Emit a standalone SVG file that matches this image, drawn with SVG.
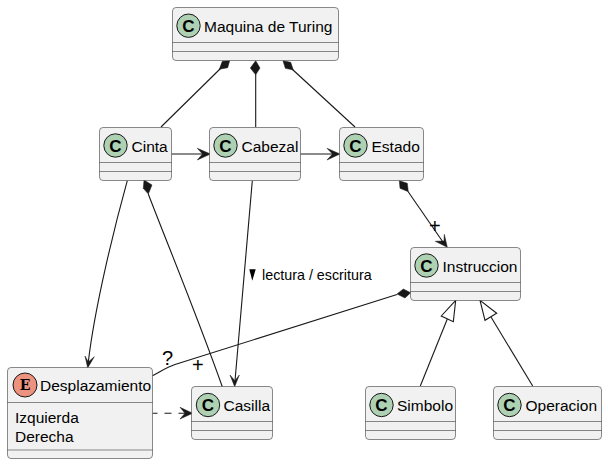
<svg xmlns="http://www.w3.org/2000/svg" width="608" height="465" viewBox="0 0 608 465">
<style>
.box{fill:#F1F1F1;stroke:#181818;stroke-width:.5}
.sep{stroke:#181818;stroke-width:.5}
.circ{stroke:#181818;stroke-width:1}
.c{fill:#ADD1B2}
.e{fill:#EB937F}
text{font-family:"Liberation Sans",Arial,sans-serif;font-size:15.5px;fill:#000}
.g{font-family:"Liberation Sans",Arial,sans-serif;font-size:17px;font-weight:bold;text-anchor:middle}
.ge{font-family:"DejaVu Serif",serif;font-size:14px;font-weight:bold;text-anchor:middle}
.l{font-size:14.3px}
.big{font-size:20px}
#connectors path,#connectors line{fill:none;stroke:#181818;stroke-width:1.1}
#connectors .head{fill:#181818;stroke:#181818;stroke-width:.5;stroke-linejoin:miter}
#connectors .tri{fill:#fff;stroke:#181818}
</style>
<defs>
<circle id="cicon" class="circ c" cx="0" cy="0" r="11.7"/>
</defs>
<g id="connectors">
<line x1="161" y1="127" x2="221" y2="68"/><path class="head" d="M229.7 60.7 L222.3 61.3 L219.3 69.3 L227.7 67.7 Z"/>
<line x1="255.7" y1="127" x2="255.7" y2="74"/><path class="head" d="M255.7 60.7 L250.3 68 L255.7 74.7 L260 68 Z"/>
<line x1="355" y1="127" x2="292" y2="69"/><path class="head" d="M283 60.7 L285.3 68.3 L293.3 70 L290.7 62.3 Z"/>
<line x1="171.5" y1="154" x2="205" y2="154"/><path class="head" d="M210.5 154 L197.3 148.3 L202.5 154 L197.3 160 Z"/>
<line x1="300.5" y1="154" x2="335" y2="154"/><path class="head" d="M340 154 L327 148.3 L332.5 154 L327 160 Z"/>
<line x1="252.3" y1="180.7" x2="235" y2="381"/><path class="head" d="M234.7 386.7 L239.3 375 L234.9 380.7 L230 375 Z"/>
<path d="M127.3 180.7 C115 225 95 305 88.3 362"/><path class="head" d="M87.7 368 L94.3 356.7 L88.3 362 L85 356 Z"/>
<path d="M148.3 194 C165 238 195 310 222.3 386.7"/><path class="head" d="M144 180 L143.3 188.3 L148.3 194 L152 185 Z"/>
<line x1="408" y1="191.5" x2="445" y2="245"/><path class="head" d="M399.3 180.7 L400 188.3 L408.3 191.7 L407.3 183.3 Z"/>
<path class="head" d="M447.3 247.3 L444.3 234.3 L444 241 L435.3 241.3 Z"/>
<path d="M152.5 375.7 C160 372 166 367.5 175 364.5 L397 294.5"/><path class="head" d="M410.7 292.7 L403.3 289 L397 294 L405 298 Z"/>
<line x1="152.5" y1="413.3" x2="186" y2="413.3" stroke-dasharray="7,7" stroke-dashoffset="2"/><path class="head" d="M192.7 413.3 L180 407.3 L185 413.3 L180 419 Z"/>
<line x1="420.3" y1="386" x2="447.3" y2="319"/><path class="tri" d="M455.7 300.3 L441.3 316 L453.3 321.7 Z"/>
<line x1="532.7" y1="386" x2="491" y2="317"/><path class="tri" d="M480 300.3 L485 320.3 L496.7 313.3 Z"/>
</g>
<g id="maquina"><rect class="box" x="172.5" y="7.5" width="166" height="53" rx="3.5"/><line class="sep" x1="172.5" y1="42.5" x2="338.5" y2="42.5"/><line class="sep" x1="172.5" y1="51.5" x2="338.5" y2="51.5"/><use href="#cicon" x="188.5" y="25.7"/><text class="g" x="188.5" y="31.5">C</text><text x="204" y="32">Maquina de Turing</text></g>
<g id="cinta"><rect class="box" x="99.5" y="127.5" width="72" height="53" rx="3.5"/><line class="sep" x1="99.5" y1="162.5" x2="171.5" y2="162.5"/><line class="sep" x1="99.5" y1="171.5" x2="171.5" y2="171.5"/><use href="#cicon" x="115.5" y="145.5"/><text class="g" x="115.5" y="151.5">C</text><text x="131.5" y="152">Cinta</text></g>
<g id="cabezal"><rect class="box" x="209.5" y="127.5" width="91" height="53" rx="3.5"/><line class="sep" x1="209.5" y1="162.5" x2="300.5" y2="162.5"/><line class="sep" x1="209.5" y1="171.5" x2="300.5" y2="171.5"/><use href="#cicon" x="225.5" y="145.5"/><text class="g" x="225.5" y="151.5">C</text><text x="241.5" y="152">Cabezal</text></g>
<g id="estado"><rect class="box" x="339.5" y="127.5" width="84" height="53" rx="3.5"/><line class="sep" x1="339.5" y1="162.5" x2="423.5" y2="162.5"/><line class="sep" x1="339.5" y1="171.5" x2="423.5" y2="171.5"/><use href="#cicon" x="355.5" y="145.5"/><text class="g" x="355.5" y="151.5">C</text><text x="371.5" y="152">Estado</text></g>
<g id="instruccion"><rect class="box" x="410.5" y="247.5" width="110" height="53" rx="3.5"/><line class="sep" x1="410.5" y1="282.5" x2="520.5" y2="282.5"/><line class="sep" x1="410.5" y1="291.5" x2="520.5" y2="291.5"/><use href="#cicon" x="426.5" y="265.5"/><text class="g" x="426.5" y="271.5">C</text><text x="442.5" y="272">Instruccion</text></g>
<g id="desplazamiento"><rect class="box" x="7.5" y="367.5" width="145" height="91" rx="3.5"/><line class="sep" x1="7.5" y1="402.5" x2="152.5" y2="402.5"/><line class="sep" x1="7.5" y1="450" x2="152.5" y2="450"/><circle class="circ e" cx="25" cy="385" r="12"/><text class="ge" x="25" y="390">E</text><text x="40" y="391">Desplazamiento</text><text x="15" y="423">Izquierda</text><text x="15" y="442">Derecha</text></g>
<g id="casilla"><rect class="box" x="191.5" y="386.5" width="81" height="53" rx="3.5"/><line class="sep" x1="191.5" y1="421.5" x2="272.5" y2="421.5"/><line class="sep" x1="191.5" y1="430.5" x2="272.5" y2="430.5"/><use href="#cicon" x="208" y="405"/><text class="g" x="208" y="411">C</text><text x="223.5" y="411">Casilla</text></g>
<g id="simbolo"><rect class="box" x="365.5" y="386.5" width="90" height="53" rx="3.5"/><line class="sep" x1="365.5" y1="421.5" x2="455.5" y2="421.5"/><line class="sep" x1="365.5" y1="430.5" x2="455.5" y2="430.5"/><use href="#cicon" x="381.5" y="405"/><text class="g" x="381.5" y="411">C</text><text x="397" y="411">Simbolo</text></g>
<g id="operacion"><rect class="box" x="493.5" y="386.5" width="108" height="53" rx="3.5"/><line class="sep" x1="493.5" y1="421.5" x2="601.5" y2="421.5"/><line class="sep" x1="493.5" y1="430.5" x2="601.5" y2="430.5"/><use href="#cicon" x="509.5" y="405"/><text class="g" x="509.5" y="411">C</text><text x="525.5" y="411">Operacion</text></g>
<g id="labels">
<path d="M249.3 269.3 L255.7 269.3 L252.3 280.7 Z" fill="#000"/>
<text class="l" x="262" y="280">lectura / escritura</text>
<text class="big" x="429" y="233">+</text>
<text class="big" x="162" y="365">?</text>
<text class="big" x="192" y="372">+</text>
</g>
</svg>
